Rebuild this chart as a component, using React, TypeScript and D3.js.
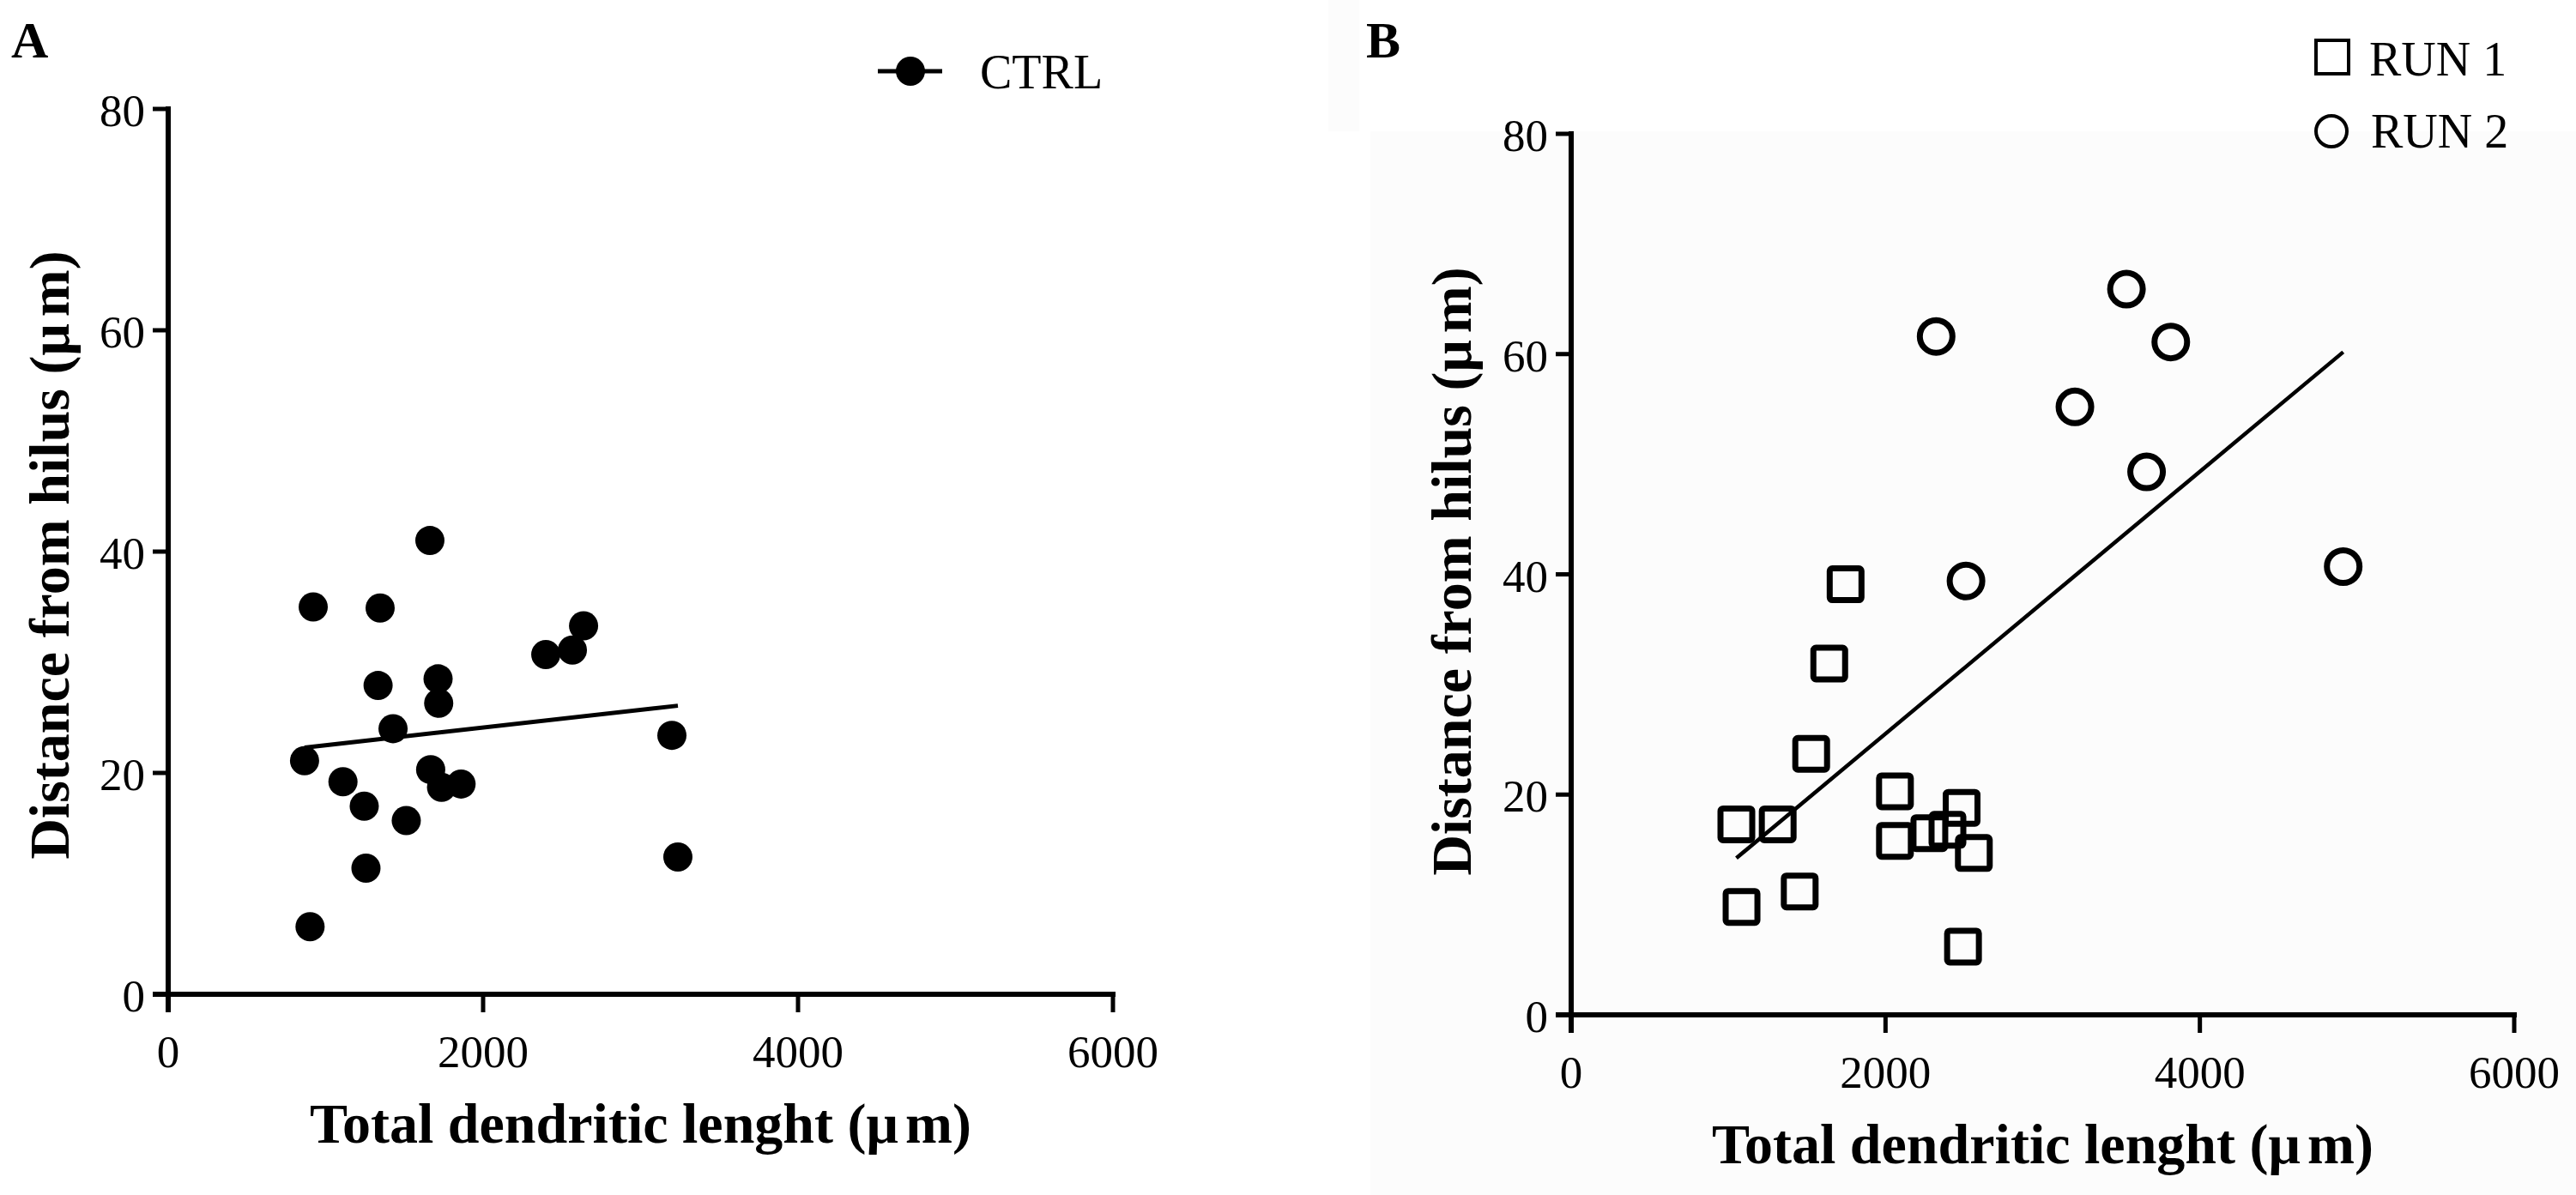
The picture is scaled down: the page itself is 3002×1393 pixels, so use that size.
import { extent, line, mean, scaleLinear } from 'd3';

const width = 3002;
const height = 1393;
const serif = '"Liberation Serif", "Times New Roman", serif';

const xTicks = [0, 2000, 4000, 6000];
const yTicks = [0, 20, 40, 60, 80];
const xLabel = 'Total dendritic lenght';
const yLabel = 'Distance from hilus';

// panel A: control cells
const ctrlLength = [
	1662, 921, 1346, 2638, 2567, 2398, 1333, 1714, 1718, 1428, 866, 1110, 1667,
	1736, 1860, 1245, 1512, 1256, 901, 3199, 3237,
];
const ctrlDistance = [
	41.0, 35.0, 34.9, 33.3, 31.1, 30.7, 27.9, 28.5, 26.3, 24.0, 21.1, 19.2, 20.3,
	18.7, 19.0, 17.0, 15.7, 11.4, 6.1, 23.4, 12.4,
];

// panel B: two runs
const run1Length = [
	1746, 1642, 1527, 2060, 1051, 1314, 2060, 2279, 2394, 2484, 2562, 1454, 1084,
	2493,
];
const run1Distance = [
	39.1, 31.9, 23.7, 20.3, 17.3, 17.3, 15.8, 16.5, 16.8, 18.8, 14.7, 11.2, 9.8,
	6.2,
];
const run2Length = [3533, 2322, 3815, 3205, 3661, 2512, 4912];
const run2Distance = [65.9, 61.6, 61.1, 55.2, 49.3, 39.4, 40.7];

// least squares fit, drawn across the range of x
const fit = (xs: number[], ys: number[]) => {
	const mx = mean(xs) as number;
	const my = mean(ys) as number;
	let sxy = 0;
	let sxx = 0;
	xs.forEach((x, i) => {
		sxy += (x - mx) * (ys[i] - my);
		sxx += (x - mx) ** 2;
	});
	const slope = sxy / sxx;
	const [lo, hi] = extent(xs) as [number, number];
	return [
		[lo, my + slope * (lo - mx)],
		[hi, my + slope * (hi - mx)],
	] as [number, number][];
};

interface Layout {
	left: number;
	right: number;
	bottom: number;
	top: number;
	yLabelX: number;
	yLabelY: number;
	xLabelY: number;
	tag: string;
	tagX: number;
}

const layoutA: Layout = {
	left: 196,
	right: 1297,
	bottom: 1159,
	top: 127,
	yLabelX: 80,
	yLabelY: 647,
	xLabelY: 1332,
	tag: 'A',
	tagX: 13,
};
const layoutB: Layout = {
	left: 1831,
	right: 2930,
	bottom: 1183,
	top: 156,
	yLabelX: 1714,
	yLabelY: 666,
	xLabelY: 1356,
	tag: 'B',
	tagX: 1592,
};

const scalesFor = (l: Layout) => ({
	x: scaleLinear().domain([0, 6000]).range([l.left, l.right]),
	y: scaleLinear().domain([0, 80]).range([l.bottom, l.top]),
});

const Frame = ({ l, x, y }: { l: Layout; x: any; y: any }) => (
	<g fontFamily={serif} fill="#000">
		<line x1={l.left} x2={l.left} y1={y(80) - 3} y2={l.bottom + 21} stroke="#000" strokeWidth={6} />
		<line x1={l.left - 18} x2={l.right + 3} y1={l.bottom} y2={l.bottom} stroke="#000" strokeWidth={6} />
		{xTicks.map(t => (
			<g key={t}>
				<line x1={x(t)} x2={x(t)} y1={l.bottom} y2={l.bottom + 21} stroke="#000" strokeWidth={5} />
				<text x={x(t)} y={l.bottom + 85} fontSize={53} textAnchor="middle">
					{t}
				</text>
			</g>
		))}
		{yTicks.map(t => (
			<g key={t}>
				<line x1={l.left - 18} x2={l.left} y1={y(t)} y2={y(t)} stroke="#000" strokeWidth={5} />
				<text x={l.left - 27} y={y(t) + 20} fontSize={53} textAnchor="end">
					{t}
				</text>
			</g>
		))}
		<text
			x={(l.left + l.right) / 2}
			y={l.xLabelY}
			fontSize={66}
			fontWeight="bold"
			textAnchor="middle"
		>
			{xLabel} (μ<tspan dx={8}>m</tspan>)
		</text>
		<text
			transform={`translate(${l.yLabelX},${l.yLabelY}) rotate(-90)`}
			fontSize={66}
			fontWeight="bold"
			textAnchor="middle"
		>
			{yLabel} (μ<tspan dx={8}>m</tspan>)
		</text>
		<text x={l.tagX} y={67} fontSize={60} fontWeight="bold">
			{l.tag}
		</text>
	</g>
);

const Trend = ({ pts, x, y, w }: { pts: [number, number][]; x: any; y: any; w: number }) => (
	<path
		fill="none"
		stroke="#000"
		strokeWidth={w}
		d={
			line<[number, number]>()
				.x(d => x(d[0]))
				.y(d => y(d[1]))(pts) || ''
		}
	/>
);

const App = () => {
	const a = scalesFor(layoutA);
	const b = scalesFor(layoutB);
	const trendA = fit(ctrlLength, ctrlDistance);
	const trendB = fit(
		[...run1Length, ...run2Length],
		[...run1Distance, ...run2Distance],
	);
	const side = 37;

	return (
		<svg
			width={width}
			height={height}
			style={{ position: 'absolute', left: 0, top: 0, background: '#fff' }}
		>
			{/* panel B sits on a faintly grey plate */}
			<rect x={1597} y={153} width={width - 1597} height={height - 153} fill="#fcfcfc" />
			<rect x={1548} y={0} width={36} height={153} fill="#fcfcfc" />

			<Frame l={layoutA} x={a.x} y={a.y} />
			<Trend pts={trendA} x={a.x} y={a.y} w={5} />
			{ctrlLength.map((v, i) => (
				<circle key={i} cx={a.x(v)} cy={a.y(ctrlDistance[i])} r={17} fill="#000" />
			))}

			{/* legend A */}
			<line x1={1023} x2={1098} y1={83} y2={83} stroke="#000" strokeWidth={5} />
			<circle cx={1061} cy={83} r={17} fill="#000" />
			<text x={1142} y={103} fontSize={56} fontFamily={serif}>
				CTRL
			</text>

			<Frame l={layoutB} x={b.x} y={b.y} />
			<Trend pts={trendB} x={b.x} y={b.y} w={4.5} />
			{run1Length.map((v, i) => (
				<rect
					key={i}
					x={b.x(v) - side / 2}
					y={b.y(run1Distance[i]) - side / 2}
					width={side}
					height={side}
					rx={3}
					fill="none"
					stroke="#000"
					strokeWidth={7}
				/>
			))}
			{run2Length.map((v, i) => (
				<circle
					key={i}
					cx={b.x(v)}
					cy={b.y(run2Distance[i])}
					r={19}
					fill="none"
					stroke="#000"
					strokeWidth={7}
				/>
			))}

			{/* legend B */}
			<rect x={2699} y={47} width={38} height={39} fill="none" stroke="#000" strokeWidth={4} />
			<circle cx={2717} cy={153} r={18} fill="none" stroke="#000" strokeWidth={4} />
			<g fontFamily={serif} fontSize={56}>
				<text x={2761} y={88}>
					RUN 1
				</text>
				<text x={2763} y={172}>
					RUN 2
				</text>
			</g>
		</svg>
	);
};

export default App;
